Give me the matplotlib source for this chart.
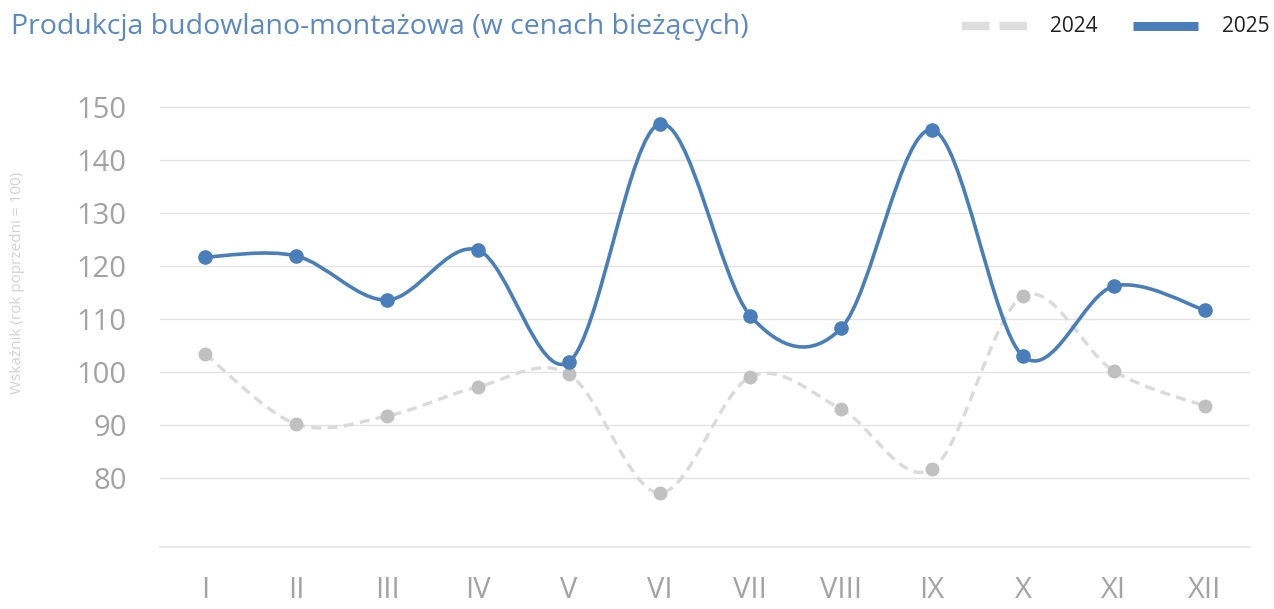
import matplotlib
matplotlib.use("Agg")
import matplotlib.pyplot as plt
import numpy as np
from matplotlib.path import Path
from matplotlib.patches import PathPatch
from matplotlib.lines import Line2D

months = ["I", "II", "III", "IV", "V", "VI", "VII", "VIII", "IX", "X", "XI", "XII"]
v2024 = [103.4, 90.2, 91.7, 97.2, 99.6, 77.2, 99.1, 93.0, 81.7, 114.3, 100.2, 93.6]
v2025 = [121.7, 121.9, 113.6, 123.0, 101.9, 146.8, 110.6, 108.3, 145.7, 103.0, 116.2, 111.7]
yticks = [80, 90, 100, 110, 120, 130, 140, 150]
title = "Produkcja budowlano-montażowa (w cenach bieżących)"
ylabel = "Wskaźnik (rok poprzedni = 100)"

BLUE = "#4a7ebb"
GRAY_LINE = "#dadada"
GRAY_MARK = "#c0c0c0"
TICK = "#a3a3a3"

plt.rcParams['font.family'] = ['Open Sans', 'DejaVu Sans']

W, H = 1274, 609
fig = plt.figure(figsize=(W / 100, H / 100), dpi=100)
left, right = 160 / W, 1250 / W
bottom = (H - 547) / H
top = (H - 96.4) / H
ax = fig.add_axes([left, bottom, right - left, top - bottom])
ax.set_xlim(-0.5, 11.5)
ax.set_ylim(67, 152)


def smooth_path(xs, ys):
    pts = np.column_stack([xs, ys]).astype(float)
    n = len(pts)
    verts = [pts[0]]
    codes = [Path.MOVETO]
    for i in range(n - 1):
        p0 = pts[i - 1] if i > 0 else pts[i]
        p1 = pts[i]
        p2 = pts[i + 1]
        p3 = pts[i + 2] if i + 2 < n else pts[i + 1]
        c1 = p1 + (p2 - p0) / 6.0
        c2 = p2 - (p3 - p1) / 6.0
        verts += [c1, c2, p2]
        codes += [Path.CURVE4] * 3
    return Path(verts, codes)


x = np.arange(len(months))

# grid
for t in yticks:
    ax.axhline(t, color="#e3e3e3", lw=1.0, zorder=0)
ax.axhline(67, color="#e3e3e3", lw=1.2, zorder=0, clip_on=False)

p24 = PathPatch(smooth_path(x, v2024), fill=False, edgecolor=GRAY_LINE, lw=2.4,
                linestyle=(0, (3.0, 1.9)), zorder=2)
ax.add_patch(p24)
ax.plot(x, v2024, linestyle="none", marker="o", ms=9, color=GRAY_MARK, zorder=3)

p25 = PathPatch(smooth_path(x, v2025), fill=False, edgecolor=BLUE, lw=2.6,
                zorder=4, capstyle="round", joinstyle="round")
ax.add_patch(p25)
ax.plot(x, v2025, linestyle="none", marker="o", ms=9.5, color=BLUE, zorder=5)

for s in ax.spines.values():
    s.set_visible(False)
ax.set_yticks(yticks)
ax.set_yticklabels([str(t) for t in yticks], fontsize=21, color=TICK)
ax.set_xticks(x)
ax.set_xticklabels(months, fontsize=21, color=TICK)
ax.tick_params(axis="y", length=0, pad=24)
ax.tick_params(axis="x", length=0, pad=21)

fig.text(18 / W, 1 - 283 / H, ylabel, rotation=90, ha="center", va="center",
         fontsize=11, color="#d2d2d2")

fig.text(11 / W, 1 - 27 / H, title, ha="left", va="center", fontsize=20.5,
         color="#5b88c6")

# legend
ly = 1 - 26 / H
fig.add_artist(Line2D([962 / W, 1027 / W], [ly, ly], color="#dedede", lw=6,
                      linestyle=(0, (3.3, 1.2)), transform=fig.transFigure))
fig.text(1050 / W, ly, "2024", ha="left", va="center", fontsize=15, color="#222222")
fig.add_artist(Line2D([1133 / W, 1198 / W], [ly, ly], color=BLUE, lw=6.5,
                      transform=fig.transFigure, solid_capstyle="butt"))
fig.text(1222 / W, ly, "2025", ha="left", va="center", fontsize=15, color="#222222")

fig.savefig("out.png", dpi=100, facecolor="white")
